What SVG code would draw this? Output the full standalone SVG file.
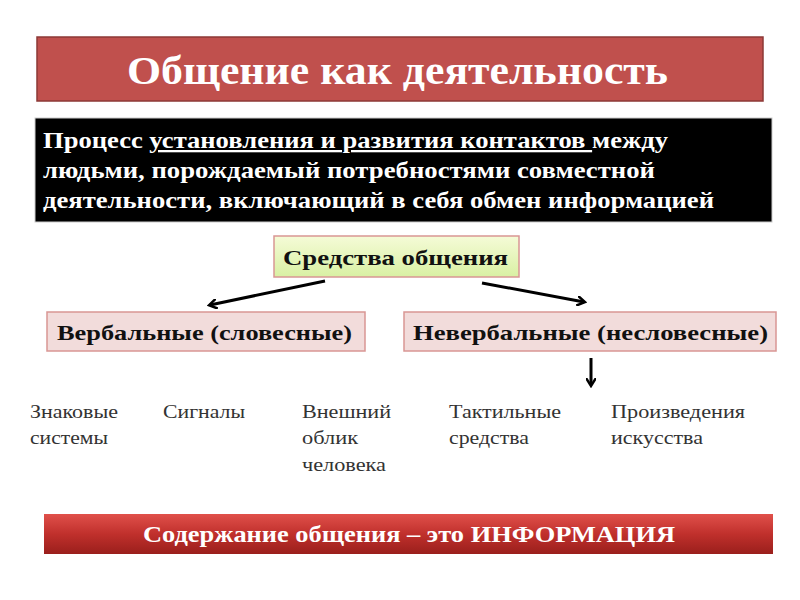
<svg xmlns="http://www.w3.org/2000/svg" width="800" height="600" viewBox="0 0 800 600">
<style>
.b{font-family:"Liberation Serif",serif;font-weight:bold}
.w{fill:#fff}
.n{font-family:"Liberation Serif",serif;font-size:19px;fill:#333}
.pink{fill:#f2dcdb;stroke:#d99694;stroke-width:1.5}
.c{stroke:#000;stroke-width:3;fill:none;marker-end:url(#ah)}
</style>
<defs>
<marker id="ah" markerWidth="10" markerHeight="10" refX="7" refY="5" orient="auto" markerUnits="userSpaceOnUse"><path d="M0,0 L8,5 L0,10" fill="none" stroke="#000" stroke-width="2.5"/></marker>
<linearGradient id="g" x1="0" y1="0" x2="0" y2="1"><stop offset="0" stop-color="#f5fbd7"/><stop offset="1" stop-color="#d9f0a3"/></linearGradient>
<linearGradient id="r" x1="0" y1="0" x2="0" y2="1"><stop offset="0" stop-color="#e0504a"/><stop offset="0.5" stop-color="#c0302c"/><stop offset="1" stop-color="#9a1f1c"/></linearGradient>
</defs>
<rect width="800" height="600" fill="#fff"/>
<g id="title"><rect x="37" y="37" width="726" height="64" fill="#c0504d" stroke="#8c3836" stroke-width="1.5"/>
<text class="b w" x="127" y="84" font-size="40" textLength="541" lengthAdjust="spacingAndGlyphs">Общение как деятельность</text></g>
<g id="definition"><rect x="35" y="118" width="737" height="104" fill="#000" stroke="#ccc"/>
<text class="b w" font-size="23"><tspan x="43" y="148" textLength="625" lengthAdjust="spacingAndGlyphs">Процесс <tspan text-decoration="underline">установления и развития контактов </tspan>между</tspan></text>
<text class="b w" font-size="23" x="43" y="178" textLength="612" lengthAdjust="spacingAndGlyphs">людьми, порождаемый потребностями совместной</text>
<text class="b w" font-size="23" x="43" y="208" textLength="671" lengthAdjust="spacingAndGlyphs">деятельности, включающий в себя обмен информацией</text></g>
<g id="means"><rect x="274" y="236" width="245" height="41" fill="url(#g)" stroke="#d99694" stroke-width="1.5"/>
<text class="b" x="283" y="265" font-size="22" fill="#111" textLength="225" lengthAdjust="spacingAndGlyphs">Средства общения</text></g>
<g id="verbal"><rect class="pink" x="47" y="312" width="318" height="39"/>
<text class="b" x="57" y="340" font-size="22" fill="#111" textLength="295" lengthAdjust="spacingAndGlyphs">Вербальные (словесные)</text></g>
<g id="nonverbal"><rect class="pink" x="404" y="312" width="372" height="39"/>
<text class="b" x="413" y="340" font-size="22" fill="#111" textLength="355" lengthAdjust="spacingAndGlyphs">Невербальные (несловесные)</text></g>
<g id="connectors">
<line class="c" x1="325" y1="281" x2="210" y2="305"/>
<line class="c" x1="482" y1="283" x2="584" y2="302"/>
<line class="c" x1="591" y1="358" x2="591" y2="385"/>
</g>
<g id="items" lengthAdjust="spacingAndGlyphs">
<text class="n" x="30" y="418" textLength="88" lengthAdjust="spacingAndGlyphs">Знаковые</text><text class="n" x="30" y="444" textLength="78" lengthAdjust="spacingAndGlyphs">системы</text>
<text class="n" x="163" y="418" textLength="82" lengthAdjust="spacingAndGlyphs">Сигналы</text>
<text class="n" x="302" y="418" textLength="89" lengthAdjust="spacingAndGlyphs">Внешний</text><text class="n" x="302" y="444" textLength="56" lengthAdjust="spacingAndGlyphs">облик</text><text class="n" x="302" y="471" textLength="84" lengthAdjust="spacingAndGlyphs">человека</text>
<text class="n" x="449" y="418" textLength="112" lengthAdjust="spacingAndGlyphs">Тактильные</text><text class="n" x="449" y="444" textLength="80" lengthAdjust="spacingAndGlyphs">средства</text>
<text class="n" x="611" y="418" textLength="134" lengthAdjust="spacingAndGlyphs">Произведения</text><text class="n" x="611" y="444" textLength="92" lengthAdjust="spacingAndGlyphs">искусства</text>
</g>
<g id="footer"><rect x="44" y="514" width="729" height="40" fill="url(#r)"/>
<text class="b w" x="143" y="542" font-size="23" textLength="532" lengthAdjust="spacingAndGlyphs">Содержание общения – это ИНФОРМАЦИЯ</text></g>
</svg>
